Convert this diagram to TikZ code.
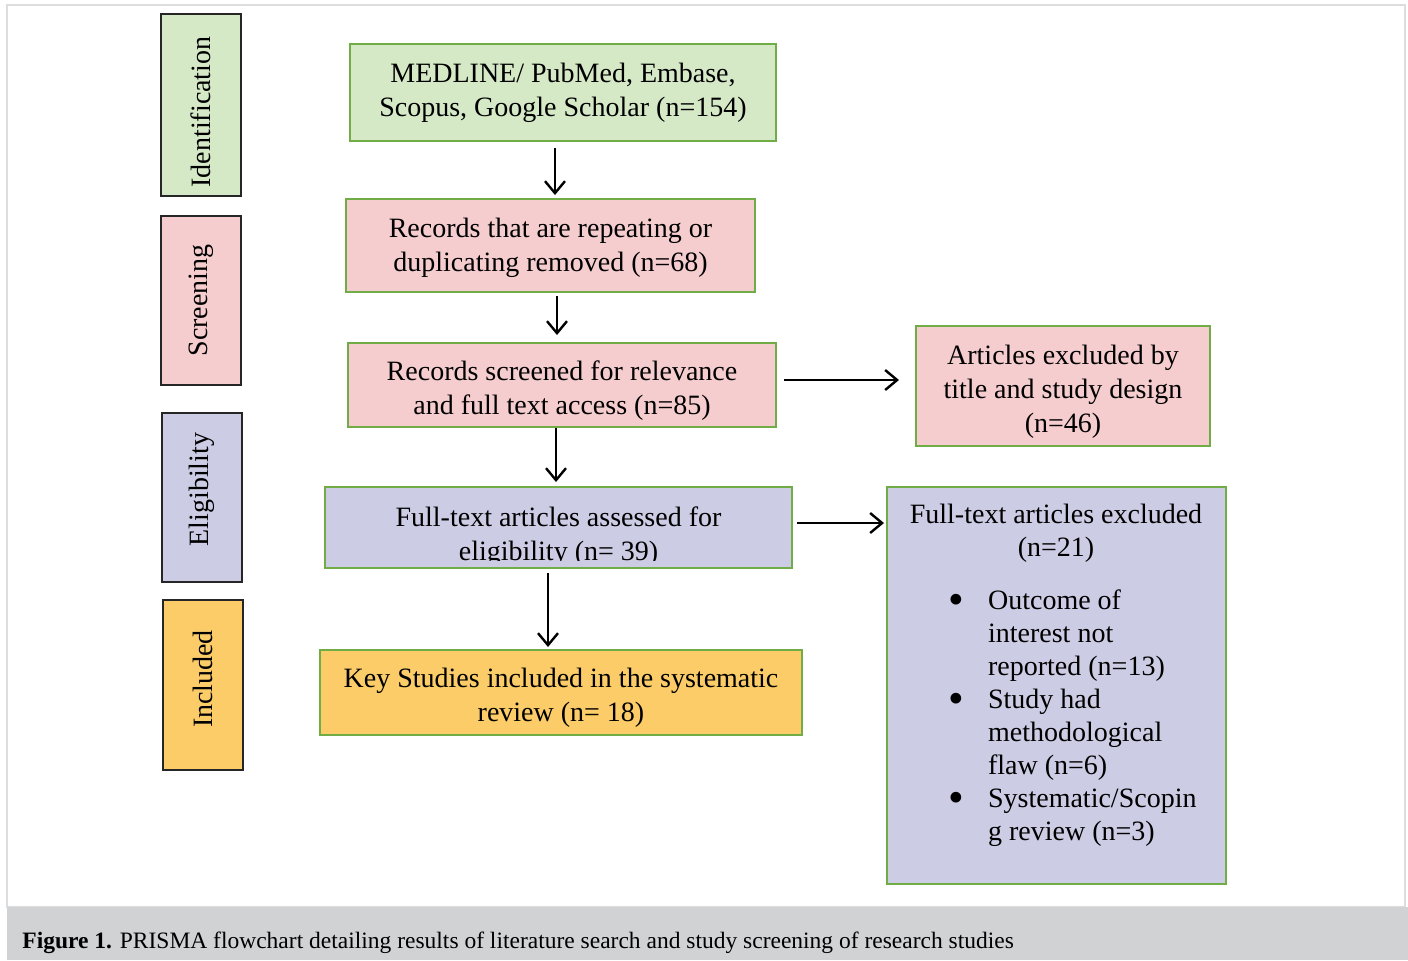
\documentclass[tikz,border=0pt]{standalone}
\usepackage{fontspec}
\setmainfont{Liberation Serif}
\usepackage{tikz}
\usetikzlibrary{arrows.meta}
\definecolor{idgreen}{RGB}{214,233,199}
\definecolor{scrpink}{RGB}{246,205,207}
\definecolor{elilav}{RGB}{205,204,229}
\definecolor{incgold}{RGB}{252,204,104}
\definecolor{boxline}{RGB}{112,173,71}
\definecolor{capgray}{RGB}{209,210,212}
\definecolor{framegray}{RGB}{221,221,221}
\newcommand{\bigdot}{\raisebox{-2.6pt}{\scalebox{1.6}{\textbullet}}}

\begin{document}
\begin{tikzpicture}[x=0.5pt, y=-0.5pt,
  stage/.style={draw=black!85, line width=1pt, minimum height=40pt, inner sep=0pt, rotate=90, font=\fontsize{14}{17}\selectfont},
  flowbox/.style={draw=boxline, line width=1pt, align=center, inner sep=0pt, font=\fontsize{14}{17}\selectfont},
  flowtext/.style={align=center, inner sep=0pt, font=\fontsize{14}{17}\selectfont},
  arr/.style={-{Straight Barb[length=6pt,width=10pt]}, line width=1.2pt}]

\useasboundingbox (0,0) rectangle (1408,960);

% Frame and caption band
\draw[framegray, line width=1pt] (7,5) rectangle (1405,907);
\fill[capgray] (7,907) rectangle (1408,960);
\node[anchor=base west, inner sep=0pt, font=\fontsize{11.75}{13}\selectfont] (caption) at (22,948)
  {\textbf{Figure 1.} PRISMA flowchart detailing results of literature search and study screening of research studies};

% Step 1: stage labels down the left side (pl/pr pad the text ends)
\foreach \name/\lbl/\col/\cx/\cy/\h/\pl/\pr in {ident/Identification/idgreen/201/105/91/0/7,
    screen/Screening/scrpink/201/300.5/84.5/0/0,
    elig/Eligibility/elilav/202/497.5/84.5/8/0,
    incl/Included/incgold/203/685/85/6/0} {
  \node[stage, fill=\col, minimum width=\h pt] (\name) at (\cx,\cy) {\hspace*{\pl pt}\lbl\hspace*{\pr pt}};
}

% Step 2: main flow boxes
\node[flowbox, fill=idgreen, minimum width=213pt, minimum height=48.5pt] (search) at (563,92.5)
  {MEDLINE/ PubMed, Embase,\\Scopus, Google Scholar (n=154)};
\node[flowbox, fill=scrpink, minimum width=204.5pt, minimum height=46.5pt] (dupl) at (550.5,245.5) {};
\node[flowtext] (dupltxt) at ([yshift=-1pt]dupl.center)
  {Records that are repeating or\\duplicating removed (n=68)};
\node[flowbox, fill=scrpink, minimum width=214pt, minimum height=42pt] (screened) at (562,385) {};
\node[flowtext] (screenedtxt) at ([yshift=-3pt]screened.center)
  {Records screened for relevance\\and full text access (n=85)};
\node[flowbox, fill=elilav, minimum width=233.5pt, minimum height=40.5pt,
  path picture={
    \clip (path picture bounding box.north west) rectangle ([yshift=4pt]path picture bounding box.south east);
    \node[align=center] (assesstxt) at ([yshift=-4.75pt]path picture bounding box.center)
      {Full-text articles assessed for\\eligibility (n= 39)};
  }] (assess) at (558.5,527.5) {};
\node[flowbox, fill=incgold, minimum width=241pt, minimum height=42.5pt] (included) at (561,692.5) {};
\node[flowtext] (includedtxt) at ([yshift=-2.5pt]included.center)
  {Key Studies included in the systematic\\review (n= 18)};

% Step 3: excluded boxes on the right
\node[flowbox, fill=scrpink, minimum width=147pt, minimum height=60pt] (exclA) at (1063,386) {};
\node[flowtext] (exclAtxt) at ([yshift=-3pt]exclA.center)
  {Articles excluded by\\title and study design\\(n=46)};
\node[flowbox, fill=elilav, minimum width=169.5pt, minimum height=198.5pt] (exclB) at (1056.5,685.5) {};
\node[align=center, font=\fontsize{14}{16.5}\selectfont] (exclBtitle) at (1056,533)
  {Full-text articles excluded\\(n=21)};
\node[anchor=base west, inner sep=0pt, font=\fontsize{14}{16.5}\selectfont] (exclBlist) at (948,609)
  {\renewcommand{\arraystretch}{1}%
   \begin{tabular}[t]{@{}l@{\hspace{12pt}}l@{}}
   \bigdot & Outcome of\\
           & interest not\\
           & reported (n=13)\\
   \bigdot & Study had\\
           & methodological\\
           & flaw (n=6)\\
   \bigdot & Systematic/Scopin\\
           & g review (n=3)
   \end{tabular}};

% Step 4: arrows
\draw[arr, shorten <=3pt, shorten >=1.5pt] ([xshift=-4pt]search.south) -- ([xshift=-4pt]search.south |- dupl.north);
\draw[arr, shorten <=1.5pt, shorten >=3.5pt] ([xshift=3.25pt]dupl.south) -- ([xshift=3.25pt]dupl.south |- screened.north);
\draw[arr, shorten >=2pt] ([xshift=-3pt]screened.south) -- ([xshift=-3pt]screened.south |- assess.north);
\draw[arr, shorten <=2pt, shorten >=1pt] ([xshift=-5.25pt]assess.south) -- ([xshift=-5.25pt]assess.south |- included.north);
\draw[arr, shorten <=3.5pt, shorten >=8pt] ([yshift=2.5pt]screened.east) -- ([yshift=2.5pt]screened.east -| exclA.west);
\draw[arr, shorten <=2pt, shorten >=1pt] ([yshift=2.25pt]assess.east) -- ([yshift=2.25pt]assess.east -| exclB.west);
\end{tikzpicture}
\end{document}
